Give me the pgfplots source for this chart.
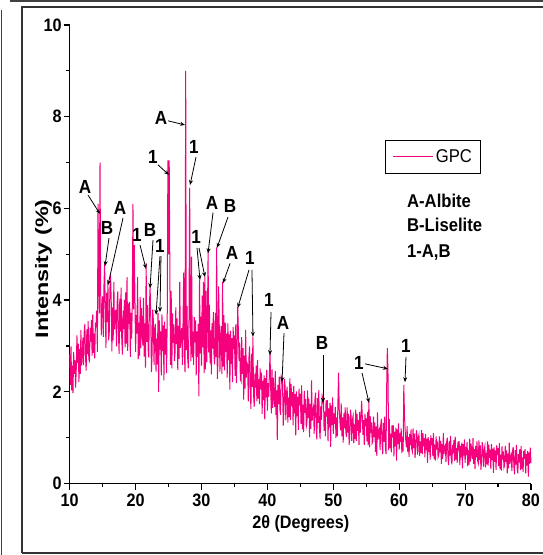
\documentclass[border=0pt]{standalone}
\usepackage{pgfplots}
\pgfplotsset{compat=1.18}
\usepackage{fontspec}
\setmainfont{Liberation Sans}[FakeStretch=0.9]
\newfontfamily\ylfamily{Liberation Sans}[FakeStretch=1.3]
\usetikzlibrary{arrows.meta}
\definecolor{gpc}{RGB}{245,0,125}
\newcommand{\tfont}{\fontsize{18}{18}\selectfont\bfseries}
\newcommand{\lfont}{\fontsize{18}{18}\selectfont\bfseries}
\newcommand{\ylfont}{\ylfamily\fontsize{18}{18}\selectfont\bfseries}
\newcommand{\afont}{\fontsize{19}{19}\selectfont\bfseries}
\newcommand{\kfont}{\fontsize{18.5}{18.5}\selectfont\bfseries}
\begin{document}
\begin{tikzpicture}
\path[use as bounding box] (-69.7pt,-71.5pt) rectangle (472.3pt,483.5pt);
\begin{axis}[
  at={(0pt,0pt)}, anchor=south west,
  scale only axis, width=461.3pt, height=458.5pt,
  xmin=10, xmax=80, ymin=0, ymax=10,
  axis x line*=bottom, axis y line*=left,
  axis line style={line width=1.3pt, -},
  xtick={10,20,...,80}, minor xtick={15,25,...,75},
  ytick={0,2,...,10}, minor ytick={1,3,...,9},
  tick align=outside,
  major tick length=6pt, minor tick length=3.5pt,
  every tick/.style={line width=1.2pt, black},
  ticklabel style={font=\tfont},
  xticklabel style={yshift=-3pt, inner sep=1pt},
  yticklabel style={xshift=1.5pt},
  /pgf/number format/assume math mode=true,
  xlabel={2θ (Degrees)}, ylabel={Intensity (\%)},
  every axis x label/.style={at={(axis description cs:0.501,-0.0885)}, anchor=center, font=\lfont, inner sep=0pt},
  every axis y label/.style={at={(axis description cs:-0.0568,0.468)}, anchor=center, rotate=90, font=\ylfont},
  legend style={at={(rel axis cs:0.6835,0.749)}, anchor=north west, draw=black, line width=1.1pt,
    font=\fontsize{18.5}{18.5}\selectfont\mdseries, inner xsep=7pt, inner ysep=7pt},
  legend image code/.code={\draw[#1, line width=1.3pt] (0pt,0pt) -- (40pt,0pt);},
  clip=false,
]
\addplot[gpc, line width=1.0pt] coordinates {
(10.0,2.81)(10.1,2.15)(10.2,2.99)(10.3,2.03)(10.4,2.57)(10.5,1.97)(10.6,2.87)(10.7,2.39)(10.8,2.69)(10.9,2.09)
(11.0,2.51)(11.1,3.23)(11.2,2.63)(11.3,3.05)(11.4,2.21)(11.5,2.93)(11.6,2.39)(11.7,3.35)(11.8,2.57)(11.9,2.81)
(12.0,3.18)(12.1,2.58)(12.2,3.30)(12.3,3.48)(12.4,2.76)(12.5,2.46)(12.6,3.36)(12.7,2.82)(12.8,3.54)(12.9,2.70)
(13.0,2.67)(13.1,3.39)(13.2,3.09)(13.3,3.57)(13.4,2.79)(13.5,3.69)(13.6,2.85)(13.7,3.27)(13.8,2.73)(13.9,3.51)
(14.0,3.41)(14.1,3.77)(14.2,2.87)(14.3,6.10)(14.4,4.40)(14.5,3.71)(14.6,7.00)(14.7,4.20)(14.8,3.23)(14.9,3.83)
(15.0,4.08)(15.1,3.20)(15.2,4.32)(15.3,4.80)(15.4,3.76)(15.5,2.96)(15.6,4.16)(15.7,3.52)(15.8,4.40)(15.9,3.12)
(16.0,3.28)(16.1,4.24)(16.2,4.55)(16.3,4.00)(16.4,2.88)(16.5,3.84)(16.6,3.12)(16.7,4.40)(16.8,3.36)(16.9,3.68)
(17.0,3.79)(17.1,2.99)(17.2,3.95)(17.3,4.19)(17.4,3.23)(17.5,2.83)(17.6,4.03)(17.7,3.31)(17.8,4.27)(17.9,3.15)
(18.0,2.81)(18.1,3.77)(18.2,3.37)(18.3,4.01)(18.4,2.97)(18.5,4.17)(18.6,3.05)(18.7,4.50)(18.8,2.89)(18.9,3.93)
(19.0,3.48)(19.1,3.96)(19.2,2.76)(19.3,3.72)(19.4,3.16)(19.5,3.88)(19.6,6.10)(19.7,3.80)(19.8,5.20)(19.9,4.04)
(20.0,2.87)(20.1,3.67)(20.2,3.27)(20.3,4.50)(20.4,2.71)(20.5,3.51)(20.6,2.79)(20.7,4.07)(20.8,2.95)(20.9,3.83)
(21.0,3.33)(21.1,3.01)(21.2,4.05)(21.3,2.77)(21.4,3.49)(21.5,2.53)(21.6,4.80)(21.7,3.09)(21.8,3.89)(21.9,2.93)
(22.0,2.75)(22.1,3.87)(22.2,4.30)(22.3,3.63)(22.4,2.43)(22.5,2.83)(22.6,3.79)(22.7,3.55)(22.8,2.59)(22.9,3.39)
(23.0,3.48)(23.1,2.44)(23.2,3.16)(23.3,2.60)(23.4,3.72)(23.5,2.00)(23.6,3.56)(23.7,2.92)(23.8,3.32)(23.9,2.36)
(24.0,3.69)(24.1,2.89)(24.2,3.45)(24.3,2.25)(24.4,3.53)(24.5,2.81)(24.6,3.37)(24.7,2.41)(24.8,3.61)(24.9,7.05)
(25.0,5.00)(25.1,7.05)(25.2,4.60)(25.3,2.59)(25.4,4.20)(25.5,2.51)(25.6,3.71)(25.7,3.07)(25.8,3.47)(25.9,2.67)
(26.0,2.88)(26.1,3.84)(26.2,3.04)(26.3,3.60)(26.4,2.48)(26.5,3.44)(26.6,2.72)(26.7,4.40)(26.8,2.96)(26.9,3.28)
(27.0,3.39)(27.1,2.59)(27.2,3.55)(27.3,4.60)(27.4,2.83)(27.5,2.43)(27.6,9.00)(27.7,2.91)(27.8,3.87)(27.9,2.75)
(28.0,2.51)(28.1,3.47)(28.2,6.45)(28.3,3.71)(28.4,2.67)(28.5,4.95)(28.6,2.75)(28.7,3.31)(28.8,2.59)(28.9,3.63)
(29.0,3.08)(29.1,3.56)(29.2,2.36)(29.3,3.32)(29.4,2.76)(29.5,3.48)(29.6,1.90)(29.7,4.45)(29.8,2.84)(29.9,3.64)
(30.0,2.57)(30.1,4.10)(30.2,2.97)(30.3,4.40)(30.4,2.41)(30.5,4.50)(30.6,2.49)(30.7,4.20)(30.8,2.65)(30.9,3.53)
(31.0,5.05)(31.1,2.86)(31.2,3.90)(31.3,2.62)(31.4,3.34)(31.5,2.38)(31.6,3.50)(31.7,2.94)(31.8,3.74)(31.9,2.78)
(32.0,2.60)(32.1,3.72)(32.2,2.76)(32.3,5.15)(32.4,2.28)(32.5,2.68)(32.6,4.30)(32.7,3.40)(32.8,2.44)(32.9,3.24)
(33.0,3.43)(33.1,2.39)(33.2,4.40)(33.3,2.55)(33.4,3.67)(33.5,2.47)(33.6,3.51)(33.7,2.87)(33.8,3.27)(33.9,2.31)
(34.0,3.49)(34.1,2.69)(34.2,3.25)(34.3,2.05)(34.4,3.33)(34.5,2.61)(34.6,3.17)(34.7,2.21)(34.8,3.41)(34.9,2.93)
(35.0,3.23)(35.1,2.35)(35.2,3.47)(35.3,2.19)(35.4,2.91)(35.5,3.85)(35.6,3.31)(35.7,2.67)(35.8,3.07)(35.9,2.27)
(36.0,2.23)(36.1,3.19)(36.2,2.39)(36.3,2.95)(36.4,1.83)(36.5,2.79)(36.6,2.07)(36.7,3.35)(36.8,2.31)(36.9,2.63)
(37.0,2.59)(37.1,1.79)(37.2,2.75)(37.3,2.99)(37.4,2.03)(37.5,1.63)(37.6,2.83)(37.7,2.11)(37.8,3.20)(37.9,1.95)
(38.0,1.67)(38.1,2.39)(38.2,2.09)(38.3,2.57)(38.4,1.79)(38.5,2.69)(38.6,1.85)(38.7,2.27)(38.8,1.73)(38.9,2.51)
(39.0,2.06)(39.1,2.42)(39.2,1.52)(39.3,2.24)(39.4,1.82)(39.5,2.36)(39.6,1.40)(39.7,2.30)(39.8,1.88)(39.9,2.48)
(40.0,1.59)(40.1,2.19)(40.2,1.89)(40.3,2.37)(40.4,2.85)(40.5,2.07)(40.6,1.53)(40.7,2.49)(40.8,1.65)(40.9,2.31)
(41.0,1.91)(41.1,1.67)(41.2,2.45)(41.3,1.49)(41.4,2.03)(41.5,0.95)(41.6,2.15)(41.7,1.73)(41.8,2.33)(41.9,1.61)
(42.0,1.50)(42.1,2.34)(42.2,2.30)(42.3,2.16)(42.4,1.26)(42.5,1.56)(42.6,2.28)(42.7,2.10)(42.8,1.38)(42.9,1.98)
(43.0,2.11)(43.1,1.33)(43.2,1.87)(43.3,1.45)(43.4,2.29)(43.5,1.39)(43.6,2.17)(43.7,1.69)(43.8,1.99)(43.9,1.27)
(44.0,2.13)(44.1,1.53)(44.2,1.95)(44.3,1.05)(44.4,2.01)(44.5,1.47)(44.6,1.89)(44.7,1.17)(44.8,2.07)(44.9,1.71)
(45.0,1.96)(45.1,1.30)(45.2,2.14)(45.3,1.18)(45.4,1.72)(45.5,1.12)(45.6,2.02)(45.7,1.54)(45.8,1.84)(45.9,1.24)
(46.0,1.31)(46.1,2.03)(46.2,1.43)(46.3,1.85)(46.4,1.01)(46.5,1.73)(46.6,1.19)(46.7,2.25)(46.8,1.37)(46.9,1.61)
(47.0,1.68)(47.1,1.08)(47.2,1.80)(47.3,1.98)(47.4,1.26)(47.5,0.96)(47.6,1.86)(47.7,1.32)(47.8,2.04)(47.9,1.20)
(48.0,0.97)(48.1,1.69)(48.2,1.39)(48.3,1.87)(48.4,1.80)(48.5,1.99)(48.6,1.15)(48.7,1.57)(48.8,1.03)(48.9,1.81)
(49.0,1.46)(49.1,1.82)(49.2,0.92)(49.3,1.64)(49.4,1.22)(49.5,1.76)(49.6,0.80)(49.7,1.70)(49.8,1.28)(49.9,1.88)
(50.0,1.08)(50.1,1.53)(50.2,1.30)(50.3,1.67)(50.4,0.99)(50.5,1.44)(50.6,1.03)(50.7,1.76)(50.8,2.42)(50.9,1.62)
(51.0,1.35)(51.1,1.16)(51.2,1.75)(51.3,1.03)(51.4,1.44)(51.5,0.89)(51.6,1.53)(51.7,1.21)(51.8,1.66)(51.9,1.12)
(52.0,1.02)(52.1,1.66)(52.2,1.11)(52.3,1.52)(52.4,0.84)(52.5,1.07)(52.6,1.61)(52.7,1.48)(52.8,0.93)(52.9,1.39)
(53.0,1.47)(53.1,0.88)(53.2,1.29)(53.3,0.97)(53.4,1.61)(53.5,0.93)(53.6,1.52)(53.7,1.15)(53.8,1.38)(53.9,0.84)
(54.0,1.56)(54.1,1.11)(54.2,1.43)(54.3,1.80)(54.4,1.47)(54.5,1.06)(54.6,1.38)(54.7,0.84)(54.8,1.52)(54.9,1.25)
(55.0,1.42)(55.1,0.92)(55.2,1.56)(55.3,0.83)(55.4,1.80)(55.5,0.79)(55.6,1.47)(55.7,1.10)(55.8,1.33)(55.9,0.88)
(56.0,0.92)(56.1,1.46)(56.2,1.01)(56.3,1.33)(56.4,0.69)(56.5,1.24)(56.6,0.60)(56.7,1.55)(56.8,0.96)(56.9,1.15)
(57.0,1.19)(57.1,0.73)(57.2,1.28)(57.3,1.41)(57.4,0.87)(57.5,0.64)(57.6,1.32)(57.7,0.91)(57.8,1.46)(57.9,0.82)
(58.0,0.64)(58.1,2.10)(58.2,2.95)(58.3,2.40)(58.4,0.73)(58.5,1.41)(58.6,0.77)(58.7,1.09)(58.8,0.68)(58.9,1.27)
(59.0,1.00)(59.1,1.27)(59.2,0.59)(59.3,1.13)(59.4,0.81)(59.5,1.22)(59.6,0.50)(59.7,1.18)(59.8,0.86)(59.9,1.31)
(60.0,0.74)(60.1,1.09)(60.2,0.91)(60.3,1.20)(60.4,0.67)(60.5,1.02)(60.6,0.70)(60.7,2.15)(60.8,1.50)(60.9,1.16)
(61.0,0.94)(61.1,0.79)(61.2,1.25)(61.3,0.69)(61.4,1.01)(61.5,0.58)(61.6,1.08)(61.7,0.83)(61.8,1.18)(61.9,0.76)
(62.0,0.70)(62.1,1.20)(62.2,0.77)(62.3,1.09)(62.4,0.56)(62.5,0.74)(62.6,1.16)(62.7,1.06)(62.8,0.63)(62.9,0.99)
(63.0,1.06)(63.1,0.60)(63.2,0.92)(63.3,0.67)(63.4,1.17)(63.5,0.64)(63.6,1.10)(63.7,0.81)(63.8,0.99)(63.9,0.57)
(64.0,1.08)(64.1,0.73)(64.2,0.98)(64.3,0.45)(64.4,1.01)(64.5,0.69)(64.6,0.94)(64.7,0.52)(64.8,1.05)(64.9,0.84)
(65.0,0.99)(65.1,0.60)(65.2,1.10)(65.3,0.53)(65.4,0.85)(65.5,0.50)(65.6,1.03)(65.7,0.74)(65.8,0.92)(65.9,0.57)
(66.0,0.61)(66.1,1.03)(66.2,0.68)(66.3,0.93)(66.4,0.43)(66.5,0.86)(66.6,0.54)(66.7,1.10)(66.8,0.64)(66.9,0.79)
(67.0,0.83)(67.1,0.47)(67.2,0.90)(67.3,1.00)(67.4,0.58)(67.5,0.40)(67.6,0.93)(67.7,0.61)(67.8,1.04)(67.9,0.54)
(68.0,0.42)(68.1,0.84)(68.2,0.66)(68.3,0.95)(68.4,0.49)(68.5,1.02)(68.6,0.52)(68.7,0.77)(68.8,0.45)(68.9,0.91)
(69.0,0.72)(69.1,0.93)(69.2,0.40)(69.3,0.82)(69.4,0.57)(69.5,0.89)(69.6,0.33)(69.7,0.86)(69.8,0.61)(69.9,0.96)
(70.0,0.45)(70.1,0.80)(70.2,0.62)(70.3,0.91)(70.4,0.38)(70.5,0.73)(70.6,0.41)(70.7,0.98)(70.8,0.48)(70.9,0.87)
(71.0,0.68)(71.1,0.53)(71.2,0.99)(71.3,0.43)(71.4,0.75)(71.5,0.32)(71.6,0.82)(71.7,0.57)(71.8,0.92)(71.9,0.50)
(72.0,0.44)(72.1,0.94)(72.2,0.51)(72.3,0.83)(72.4,0.30)(72.5,0.48)(72.6,0.90)(72.7,0.80)(72.8,0.37)(72.9,0.73)
(73.0,0.81)(73.1,0.35)(73.2,0.67)(73.3,0.42)(73.4,0.92)(73.5,0.39)(73.6,0.85)(73.7,0.56)(73.8,0.74)(73.9,0.32)
(74.0,0.86)(74.1,0.51)(74.2,0.76)(74.3,0.23)(74.4,0.79)(74.5,0.47)(74.6,0.72)(74.7,0.30)(74.8,0.83)(74.9,0.62)
(75.0,0.77)(75.1,0.38)(75.2,0.88)(75.3,0.31)(75.4,0.63)(75.5,0.28)(75.6,0.81)(75.7,0.52)(75.8,0.70)(75.9,0.35)
(76.0,0.40)(76.1,0.82)(76.2,0.47)(76.3,0.72)(76.4,0.22)(76.5,0.65)(76.6,0.33)(76.7,0.89)(76.8,0.43)(76.9,0.58)
(77.0,0.63)(77.1,0.27)(77.2,0.70)(77.3,0.80)(77.4,0.38)(77.5,0.20)(77.6,0.73)(77.7,0.41)(77.8,0.84)(77.9,0.34)
(78.0,0.22)(78.1,0.64)(78.2,0.46)(78.3,0.75)(78.4,0.29)(78.5,0.82)(78.6,0.32)(78.7,0.57)(78.8,0.25)(78.9,0.71)
(79.0,0.54)(79.1,0.75)(79.2,0.22)(79.3,0.64)(79.4,0.39)(79.5,0.71)(79.6,0.15)(79.7,0.68)(79.8,0.43)(79.9,0.78)
(80.0,0.45)
};
\addlegendentry{GPC}
% annotations
\tikzset{ann/.style={-{Stealth[length=5pt,width=4pt]}, line width=0.8pt, black},
         lab/.style={font=\afont, inner sep=0pt, anchor=center}}
\node[lab] at (axis cs:12.32,6.47) {A};
\draw[ann] (axis cs:12.78,6.29) -- (axis cs:14.60,5.88);
\node[lab] at (axis cs:15.66,5.57) {B};
\draw[ann] (axis cs:15.96,5.35) -- (axis cs:15.36,4.74);
\node[lab] at (axis cs:17.63,6.01) {A};
\draw[ann] (axis cs:18.09,5.79) -- (axis cs:15.81,4.33);
\node[lab] at (axis cs:20.21,5.42) {1};
\draw[ann] (axis cs:20.67,5.20) -- (axis cs:21.58,4.68);
\node[lab] at (axis cs:22.19,5.53) {B};
\draw[ann] (axis cs:22.64,5.31) -- (axis cs:22.19,4.26);
\node[lab] at (axis cs:23.70,5.18) {1};
\draw[ann] (axis cs:23.70,4.96) -- (axis cs:23.10,3.68);
\draw[ann] (axis cs:23.85,4.96) -- (axis cs:23.70,3.74);
\node[lab] at (axis cs:22.64,7.12) {1};
\draw[ann] (axis cs:23.40,6.95) -- (axis cs:25.07,6.73);
\node[lab] at (axis cs:23.85,7.97) {A};
\draw[ann] (axis cs:24.92,7.91) -- (axis cs:27.50,7.82);
\node[lab] at (axis cs:28.86,7.34) {1};
\draw[ann] (axis cs:29.17,7.12) -- (axis cs:28.26,6.51);
\node[lab] at (axis cs:29.17,5.38) {1};
\draw[ann] (axis cs:29.32,5.14) -- (axis cs:29.77,4.44);
\draw[ann] (axis cs:29.62,5.14) -- (axis cs:30.53,4.50);
\node[lab] at (axis cs:31.59,6.12) {A};
\draw[ann] (axis cs:31.75,5.91) -- (axis cs:30.99,5.02);
\node[lab] at (axis cs:34.33,6.05) {B};
\draw[ann] (axis cs:34.02,5.81) -- (axis cs:32.35,5.14);
\node[lab] at (axis cs:34.63,5.02) {A};
\draw[ann] (axis cs:34.33,4.80) -- (axis cs:33.26,4.37);
\node[lab] at (axis cs:37.36,4.92) {1};
\draw[ann] (axis cs:37.21,4.66) -- (axis cs:35.50,3.83);
\draw[ann] (axis cs:37.66,4.66) -- (axis cs:37.81,3.20);
\node[lab] at (axis cs:40.24,4.00) {1};
\draw[ann] (axis cs:40.55,3.74) -- (axis cs:40.39,2.80);
\node[lab] at (axis cs:42.37,3.50) {A};
\draw[ann] (axis cs:42.52,3.28) -- (axis cs:42.22,2.21);
\node[lab] at (axis cs:48.29,3.06) {B};
\draw[ann] (axis cs:48.44,2.80) -- (axis cs:48.44,1.76);
\node[lab] at (axis cs:53.90,2.63) {1};
\draw[ann] (axis cs:54.81,2.61) -- (axis cs:58.30,2.50);
\draw[ann] (axis cs:54.36,2.41) -- (axis cs:55.42,1.76);
\node[lab] at (axis cs:61.03,3.00) {1};
\draw[ann] (axis cs:61.03,2.76) -- (axis cs:60.88,2.21);
% key text
\node[font=\kfont, anchor=base west, inner sep=0pt] at (axis cs:61.18,6.03) {A-Albite};
\node[font=\kfont, anchor=base west, inner sep=0pt] at (axis cs:61.18,5.49) {B-Liselite};
\node[font=\kfont, anchor=base west, inner sep=0pt] at (axis cs:61.18,4.92) {1-A,B};
\end{axis}
% outer frame
\draw[line width=1.2pt, black!80] (-47.7pt,-69.5pt) -- (-47.7pt,476.5pt) -- (480pt,476.5pt);
\draw[line width=1.2pt, black!80] (-47.7pt,-69.5pt) -- (480pt,-69.5pt);
\draw[line width=2.5pt, black!75] (-60pt,482.5pt) -- (480pt,482.5pt);
\draw[line width=1.5pt, black!75] (-68.2pt,473pt) -- (-68.2pt,-75pt);
\end{tikzpicture}
\end{document}
